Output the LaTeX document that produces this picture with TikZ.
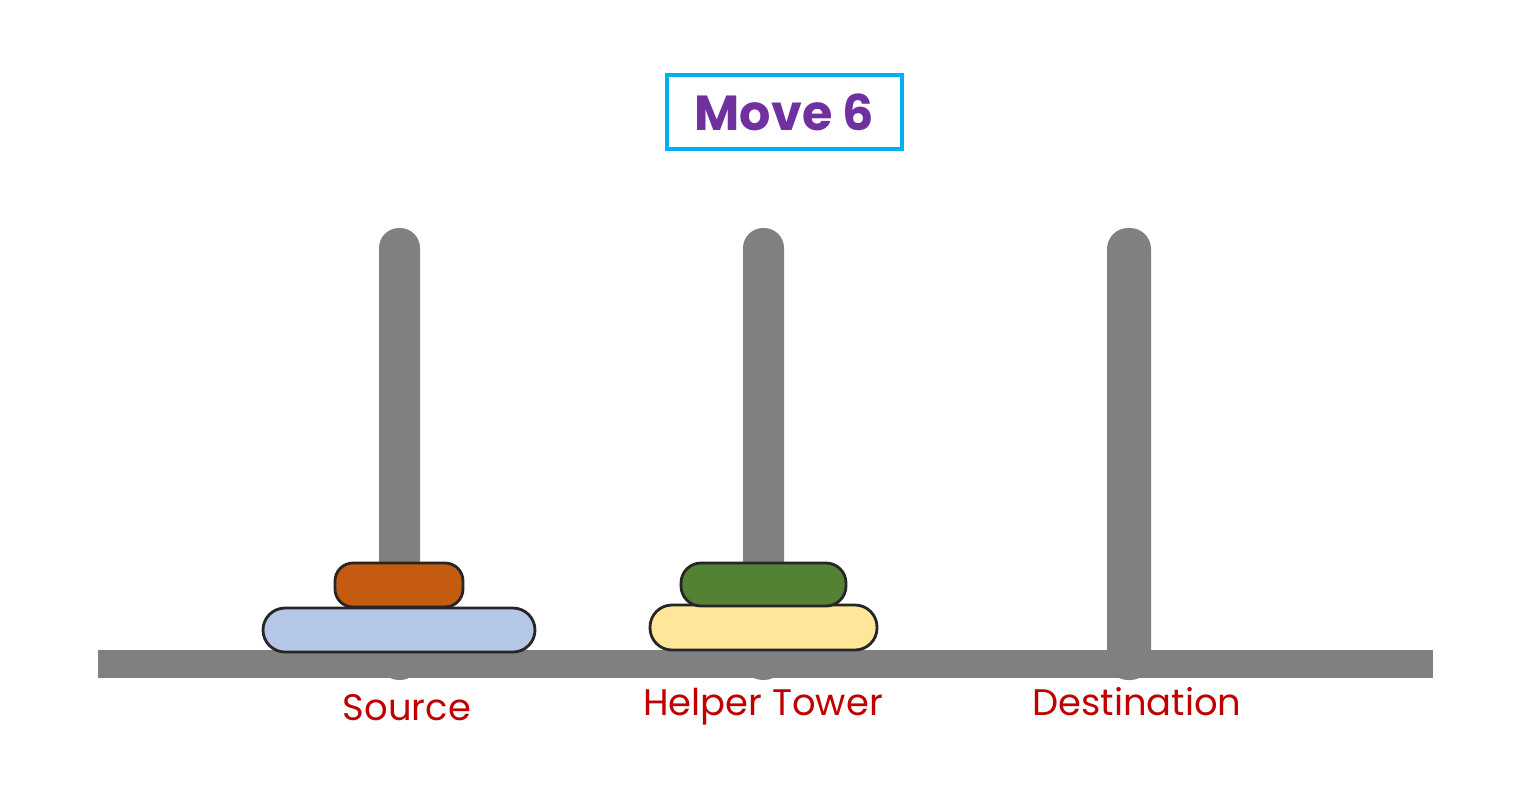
\documentclass[tikz,border=0pt]{standalone}
\usepackage{fontspec}
\setmainfont{Poppins}
\definecolor{pole}{HTML}{808080}
\definecolor{lbl}{HTML}{C00000}
\definecolor{ttl}{HTML}{7030A0}
\definecolor{bx}{HTML}{00B0F0}
\tikzset{
 disk/.style={draw=black!85,line width=0.8pt},
 lab/.style={text=lbl,font=\fontsize{10.5pt}{12pt}\selectfont},
}
\begin{document}
\begin{tikzpicture}[x=0.01cm,y=-0.01cm]
\useasboundingbox[fill=white] (0,0) rectangle (1537,787);
\fill[pole,rounded corners=0.2cm] (379,228) rectangle (420,680);
\fill[pole,rounded corners=0.2cm] (743,228) rectangle (784,680);
\fill[pole,rounded corners=0.21cm] (1107,228) rectangle (1151,680);
\fill[pole] (98,650) rectangle (1433,678);
\draw[disk,fill={rgb,255:red,180;green,199;blue,231},rounded corners=0.22cm] (263,608) rectangle (535,652);
\draw[disk,fill={rgb,255:red,197;green,90;blue,17},rounded corners=0.18cm] (335,563) rectangle (463,607);
\draw[disk,fill={rgb,255:red,255;green,230;blue,153},rounded corners=0.22cm] (650,605) rectangle (877,650);
\draw[disk,fill={rgb,255:red,84;green,130;blue,53},rounded corners=0.2cm] (681,563) rectangle (846,606);
\node[draw=bx,line width=1.2pt,minimum width=2.35cm,minimum height=0.74cm,inner sep=0pt,text=ttl,font=\bfseries\fontsize{14pt}{16pt}\selectfont] (title) at (784.5,112) {Move 6};
\node[lab] (s) at (407,708) {Source};
\node[lab] (h) at (763,707) {Helper Tower};
\node[lab] (d) at (1137,702) {Destination};
\end{tikzpicture}
\end{document}
